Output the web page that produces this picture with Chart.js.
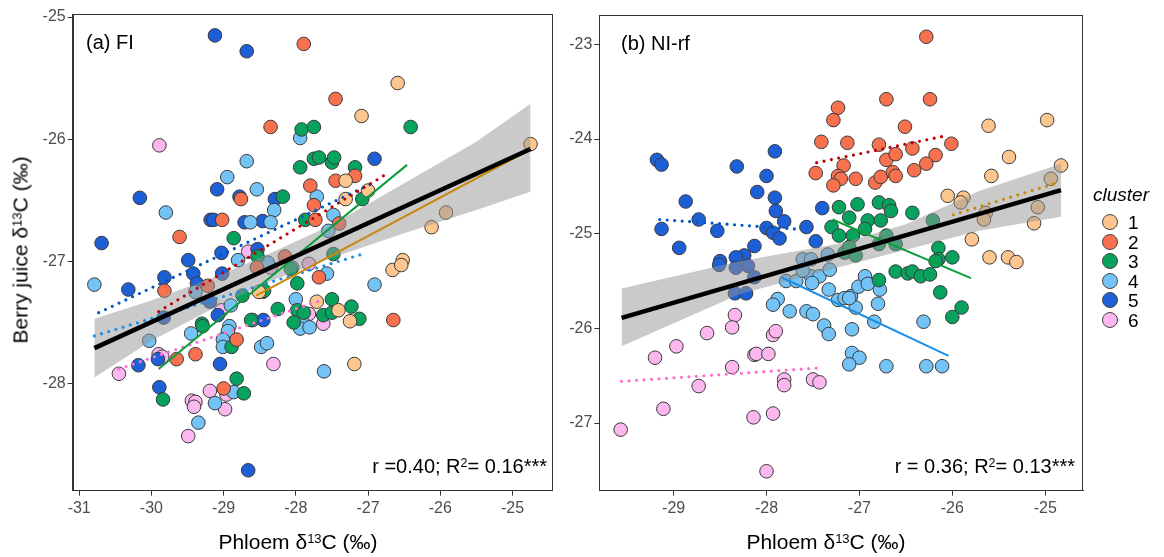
<!DOCTYPE html>
<html>
<head>
<meta charset="utf-8">
<script src="https://cdn.jsdelivr.net/npm/chart.js@4.4.1/dist/chart.umd.min.js"></script>
<style>
  body { margin: 0; background: #fff; font-family: 'Liberation Sans', Arial, sans-serif; }
  #fig { position: relative; width: 1164px; height: 557px; overflow: hidden; }
  canvas { position: absolute; top: 0; }
  .txt { position: absolute; white-space: nowrap; color: #000; line-height: 1; }
  .sup { font-size: 0.62em; position: relative; top: -0.5em; }
  .axt { font-size: 21px; color: #000; }
  .lg-dot { position: absolute; width: 14px; height: 14px; border-radius: 50%; border: 1px solid #444; }
  .lg-num { position: absolute; font-size: 19px; line-height: 1; }
</style>
</head>
<body>
<div id="fig">
  <canvas id="chartA" width="560" height="557" style="left:0"></canvas>
  <canvas id="chartB" width="604" height="557" style="left:560px"></canvas>

  <div class="txt axt" style="left:20px;top:250px;transform:translate(-50%,-50%) rotate(-90deg);">Berry juice δ<span class="sup">13</span>C (‰)</div>
  <div class="txt axt" style="left:298px;top:541px;transform:translate(-50%,-50%);">Phloem δ<span class="sup">13</span>C (‰)</div>
  <div class="txt axt" style="left:826px;top:541px;transform:translate(-50%,-50%);">Phloem δ<span class="sup">13</span>C (‰)</div>

  <div class="txt" style="left:86px;top:32px;font-size:20px;">(a) FI</div>
  <div class="txt" style="left:621px;top:33px;font-size:20px;">(b) NI-rf</div>
  <div class="txt" style="right:617px;top:456px;font-size:20px;">r =0.40; R<span class="sup">2</span>= 0.16***</div>
  <div class="txt" style="right:89px;top:456px;font-size:20px;">r = 0.36; R<span class="sup">2</span>= 0.13***</div>

  <div id="legend"></div>
</div>

<script>
// ---- data: panel (a) FI, one array per cluster, [phloem, berry juice]
const aC1 = [[-26.59,-25.54],[-27.09,-25.81],[-24.75,-26.04],[-27.31,-26.34],[-27.31,-26.49],[-27.00,-26.42],[-25.92,-26.60],[-26.12,-26.72],[-26.52,-26.99],[-26.66,-27.07],[-26.54,-27.03],[-28.51,-27.25],[-27.71,-27.33],[-27.41,-27.40],[-27.25,-27.49],[-27.19,-27.84]];
const aC2 = [[-27.89,-25.22],[-28.35,-25.90],[-27.45,-25.67],[-27.80,-26.38],[-28.76,-26.49],[-29.02,-26.66],[-29.61,-26.80],[-27.18,-26.30],[-27.45,-26.34],[-27.75,-26.54],[-27.40,-26.69],[-27.73,-26.66],[-28.54,-27.05],[-28.15,-26.96],[-27.68,-27.13],[-29.22,-27.20],[-29.82,-27.24],[-26.65,-27.48],[-29.65,-27.80],[-29.39,-27.76],[-28.82,-27.64],[-29.00,-28.04]];
const aC3 = [[-27.92,-25.92],[-27.75,-25.90],[-27.75,-26.16],[-27.94,-26.23],[-28.18,-26.47],[-28.86,-26.81],[-27.87,-26.66],[-26.41,-25.90],[-27.68,-26.15],[-27.50,-26.19],[-27.47,-26.15],[-27.18,-26.23],[-27.08,-26.49],[-27.48,-26.94],[-28.53,-26.96],[-27.98,-27.18],[-28.44,-27.24],[-27.50,-27.31],[-27.23,-27.37],[-27.12,-27.47],[-27.98,-27.40],[-28.03,-27.50],[-29.30,-27.51],[-28.25,-27.39],[-28.74,-27.28],[-28.62,-27.48],[-29.29,-27.53],[-28.89,-27.70],[-27.89,-27.42],[-29.84,-28.13],[-28.82,-27.96],[-28.72,-28.08],[-27.62,-27.44],[-27.50,-27.42],[-28.07,-27.06]];
const aC4 = [[-27.94,-25.99],[-28.68,-26.18],[-28.95,-26.31],[-28.54,-26.41],[-29.80,-26.60],[-28.30,-26.58],[-28.63,-26.68],[-28.35,-26.68],[-27.71,-26.47],[-27.48,-26.62],[-27.55,-26.75],[-28.80,-26.99],[-28.39,-27.01],[-28.05,-27.05],[-27.57,-27.10],[-26.91,-27.19],[-28.00,-27.31],[-27.89,-27.51],[-28.90,-27.36],[-28.92,-27.53],[-30.79,-27.19],[-29.39,-27.25],[-30.03,-27.65],[-29.45,-27.59],[-28.94,-27.57],[-29.01,-27.64],[-29.01,-27.70],[-28.48,-27.70],[-28.40,-27.67],[-27.94,-27.55],[-27.81,-27.54],[-28.86,-28.07],[-29.12,-28.16],[-29.35,-28.32],[-27.61,-27.90]];
const aC5 = [[-29.12,-25.15],[-28.68,-25.28],[-29.09,-26.41],[-30.16,-26.48],[-28.78,-26.47],[-28.29,-26.49],[-29.18,-26.66],[-29.14,-26.66],[-28.71,-26.68],[-28.46,-26.67],[-30.69,-26.85],[-28.53,-26.90],[-29.49,-26.99],[-29.03,-26.93],[-26.91,-26.16],[-29.42,-27.10],[-29.02,-27.10],[-29.19,-27.33],[-30.32,-27.23],[-29.82,-27.13],[-29.37,-27.18],[-29.83,-27.46],[-29.08,-27.44],[-28.45,-27.48],[-29.91,-27.80],[-30.18,-27.85],[-29.05,-27.84],[-29.89,-28.03],[-28.66,-28.71]];
const aC6 = [[-29.89,-26.05],[-28.66,-26.92],[-28.35,-27.05],[-27.82,-27.02],[-29.03,-27.40],[-28.60,-27.48],[-27.62,-27.51],[-28.46,-27.25],[-27.82,-27.43],[-28.31,-27.84],[-29.90,-27.76],[-29.85,-27.78],[-30.45,-27.92],[-29.19,-28.06],[-28.96,-28.09],[-29.44,-28.14],[-29.39,-28.15],[-29.41,-28.19],[-28.98,-28.21],[-29.49,-28.43]];

// fitted lines (end points) and the grey confidence band, panel (a)
const aFits = [
  [[-28.55,-27.28],[-24.80,-26.10]],
  [[-29.90,-27.41],[-26.76,-26.29]],
  [[-29.90,-27.88],[-26.46,-26.21]],
  [[-30.79,-27.61],[-27.02,-26.93]],
  [[-30.73,-27.42],[-26.97,-26.37]],
  [[-30.45,-27.88],[-27.66,-27.32]]
];
const aFitDotted = [false, true, false, true, true, true];
const aFitAll = [[-30.79,-27.71],[-24.75,-26.08]];
const aBandX  = [-30.79, -30.0, -29.0, -28.3, -27.5, -26.5, -25.5, -24.75];
const aBandLo = [-27.95, -27.65, -27.34, -27.15, -26.97, -26.77, -26.58, -26.43];
const aBandHi = [-27.47, -27.32, -27.10, -26.92, -26.70, -26.36, -26.02, -25.71];

// ---- data: panel (b) NI-rf
const bC1 = [[-26.05,-24.60],[-25.88,-24.62],[-25.91,-24.67],[-25.61,-23.86],[-25.39,-24.19],[-25.58,-24.39],[-25.64,-24.78],[-25.66,-24.85],[-25.79,-25.06],[-25.60,-25.25],[-25.40,-25.25],[-25.31,-25.30],[-24.98,-23.80],[-24.83,-24.28],[-24.94,-24.42],[-25.08,-24.72],[-25.12,-24.89]];
const bC2 = [[-26.28,-22.92],[-26.71,-23.58],[-26.24,-23.58],[-27.23,-23.67],[-27.28,-23.80],[-26.51,-23.87],[-27.41,-24.03],[-27.13,-24.04],[-26.79,-24.06],[-26.01,-24.05],[-26.71,-24.22],[-26.61,-24.16],[-26.43,-24.10],[-26.18,-24.17],[-26.28,-24.26],[-27.17,-24.28],[-27.47,-24.36],[-27.23,-24.39],[-27.20,-24.42],[-27.28,-24.49],[-27.04,-24.42],[-26.83,-24.46],[-26.77,-24.40],[-26.64,-24.35],[-26.61,-24.39],[-26.41,-24.33]];
const bC3 = [[-27.22,-24.72],[-27.02,-24.69],[-26.79,-24.67],[-26.68,-24.70],[-26.66,-24.76],[-26.43,-24.78],[-27.30,-24.93],[-27.22,-25.02],[-27.11,-24.83],[-26.91,-24.86],[-26.77,-24.86],[-26.94,-24.95],[-27.07,-25.02],[-27.16,-25.20],[-27.04,-25.23],[-27.11,-25.14],[-26.71,-25.02],[-26.61,-25.11],[-26.79,-25.11],[-26.21,-24.86],[-26.15,-25.15],[-26.15,-25.27],[-26.00,-25.25],[-26.79,-25.49],[-26.61,-25.40],[-26.48,-25.42],[-26.43,-25.40],[-26.34,-25.45],[-26.24,-25.43],[-26.18,-25.29],[-26.13,-25.62],[-25.90,-25.78],[-26.00,-25.88]];
const bC4 = [[-27.79,-25.50],[-27.88,-25.69],[-27.93,-25.75],[-27.75,-25.82],[-27.57,-25.82],[-27.50,-25.85],[-27.38,-25.97],[-27.33,-26.06],[-27.68,-25.50],[-27.52,-25.45],[-27.43,-25.45],[-27.51,-25.52],[-27.32,-25.38],[-27.33,-25.59],[-27.23,-25.70],[-27.16,-25.68],[-27.09,-25.66],[-27.01,-25.56],[-26.94,-25.45],[-27.04,-25.78],[-27.08,-26.01],[-26.78,-25.59],[-26.80,-25.74],[-26.84,-25.93],[-26.31,-25.93],[-27.08,-26.26],[-27.00,-26.31],[-27.11,-26.38],[-26.71,-26.40],[-26.28,-26.40],[-26.11,-26.40],[-27.61,-25.27],[-27.52,-25.27],[-27.34,-25.22],[-27.61,-25.39],[-26.91,-25.53],[-27.11,-25.68]];
const bC5 = [[-29.18,-24.22],[-29.13,-24.27],[-28.87,-24.66],[-29.13,-24.95],[-28.73,-24.85],[-28.53,-24.97],[-28.94,-25.15],[-28.32,-24.29],[-27.91,-24.13],[-28.00,-24.39],[-28.10,-24.56],[-27.91,-24.62],[-27.90,-24.76],[-27.81,-24.87],[-28.00,-24.94],[-27.93,-24.99],[-27.86,-25.05],[-28.13,-25.13],[-28.24,-25.23],[-28.20,-25.34],[-28.33,-25.25],[-28.50,-25.29],[-28.51,-25.33],[-28.33,-25.36],[-28.13,-25.46],[-28.34,-25.63],[-28.22,-25.63],[-27.57,-24.93],[-27.47,-25.08],[-27.40,-24.73]];
const bC6 = [[-28.34,-25.86],[-28.37,-25.99],[-28.64,-26.05],[-28.97,-26.19],[-29.20,-26.31],[-28.37,-26.41],[-28.73,-26.61],[-29.11,-26.85],[-29.57,-27.07],[-28.14,-26.94],[-27.93,-26.90],[-28.00,-27.51],[-28.13,-26.28],[-28.11,-26.27],[-27.98,-26.27],[-27.93,-26.07],[-27.90,-26.03],[-27.81,-26.54],[-27.81,-26.60],[-27.50,-26.54],[-27.43,-26.57]];

const bFits = [
  [[-25.99,-24.80],[-24.86,-24.46]],
  [[-27.46,-24.25],[-26.09,-23.97]],
  [[-27.29,-24.85],[-25.80,-25.47]],
  [[-27.84,-25.46],[-26.04,-26.29]],
  [[-29.15,-24.85],[-27.70,-24.95]],
  [[-29.56,-26.56],[-27.46,-26.42]]
];
const bFitDotted = [true, true, false, false, true, true];
const bFitAll = [[-29.56,-25.89],[-24.83,-24.54]];
const bBandX  = [-29.56, -28.29, -27.2, -26.5, -25.71, -24.83];
const bBandLo = [-26.19, -25.64, -25.35, -25.17, -24.97, -24.82];
const bBandHi = [-25.58, -25.29, -25.10, -24.90, -24.55, -24.26];

// ticks
const aXTicks = [-31, -30, -29, -28, -27, -26, -25];
const aYTicks = [-25, -26, -27, -28];
const bXTicks = [-29, -28, -27, -26, -25];
const bYTicks = [-23, -24, -25, -26, -27];

const clusters = ['1', '2', '3', '4', '5', '6'];
const pointColors = ['#FCC68E', '#F8714F', '#07A35E', '#74C3F6', '#1D5FD6', '#FBB7EE'];
const lineColors  = ['#C8890A', '#C00000', '#0A9E3C', '#1A8FE8', '#0057C2', '#FF6FCF'];

Chart.defaults.font.family = "'Liberation Sans', Arial, sans-serif";

const toXY = arr => arr.map(p => ({ x: p[0], y: p[1] }));

const framePlugin = {
  id: 'frame',
  afterDraw(chart) {
    const { ctx, chartArea: a } = chart;
    ctx.save();
    ctx.strokeStyle = '#333';
    ctx.lineWidth = 1;
    ctx.strokeRect(Math.round(a.left) + 0.5, Math.round(a.top) + 0.5,
                   Math.round(a.right - a.left) - 1, Math.round(a.bottom - a.top) - 1);
    ctx.restore();
  }
};

function buildDatasets(groups, fits, dotted, fitAll, bandX, bandLo, bandHi) {
  const ds = [];
  groups.forEach((g, i) => {
    ds.push({
      label: 'cluster ' + clusters[i],
      data: toXY(g),
      backgroundColor: pointColors[i],
      borderColor: '#3a3a3a',
      borderWidth: 1,
      pointRadius: 6.8,
      showLine: false,
      order: 5
    });
  });
  // confidence band (upper fills down to lower)
  ds.push({
    data: bandX.map((x, i) => ({ x, y: bandHi[i] })),
    showLine: true, borderWidth: 0, borderColor: 'rgba(0,0,0,0)', pointRadius: 0,
    backgroundColor: 'rgba(150,150,150,0.5)', fill: '+1', order: 3
  });
  ds.push({
    data: bandX.map((x, i) => ({ x, y: bandLo[i] })),
    showLine: true, borderWidth: 0, borderColor: 'rgba(0,0,0,0)', pointRadius: 0,
    fill: false, order: 3
  });
  fits.forEach((f, i) => {
    ds.push({
      data: toXY(f),
      showLine: true, pointRadius: 0, fill: false,
      borderColor: lineColors[i],
      borderWidth: dotted[i] ? 3.2 : 2,
      borderDash: dotted[i] ? [0, 7.5] : [],
      borderCapStyle: dotted[i] ? 'round' : 'butt',
      order: 1
    });
  });
  ds.push({
    data: toXY(fitAll),
    showLine: true, pointRadius: 0, fill: false,
    borderColor: '#000', borderWidth: 4.5, order: 0
  });
  return ds;
}

function axis(min, max, ticks, fitSize, isX) {
  return {
    type: 'linear', min, max,
    afterBuildTicks: s => { s.ticks = ticks.map(v => ({ value: v })); },
    afterFit: s => { if (isX) s.height = fitSize; else s.width = fitSize; },
    ticks: { color: '#4d4d4d', font: { size: 16 }, padding: isX ? 3 : 2, maxRotation: 0, callback: v => String(v) },
    grid: { display: true, drawOnChartArea: false, drawTicks: true, tickLength: 5, color: '#333' },
    border: { display: true, color: '#333' }
  };
}

function makePanel(id, datasets, xr, yr, xt, yt, yWidth, padding) {
  return new Chart(document.getElementById(id), {
    type: 'scatter',
    data: { datasets },
    options: {
      responsive: false,
      animation: false,
      layout: { padding },
      plugins: { legend: { display: false }, tooltip: { enabled: false } },
      scales: {
        x: axis(xr[0], xr[1], xt, 66.3, true),
        y: axis(yr[0], yr[1], yt, yWidth, false)
      }
    },
    plugins: [framePlugin]
  });
}

makePanel('chartA',
  buildDatasets([aC1, aC2, aC3, aC4, aC5, aC6], aFits, aFitDotted, aFitAll, aBandX, aBandLo, aBandHi),
  [-31.09, -24.45], [-28.877, -24.975], aXTicks, aYTicks, 72.7,
  { top: 14, right: 2, bottom: 0, left: 0 });

makePanel('chartB',
  buildDatasets([bC1, bC2, bC3, bC4, bC5, bC6], bFits, bFitDotted, bFitAll, bBandX, bBandLo, bBandHi),
  [-29.80, -24.59], [-27.715, -22.69], bXTicks, bYTicks, 39.3,
  { top: 15, right: 80.7, bottom: 0, left: 0 });

// legend
const lg = document.getElementById('legend');
lg.innerHTML = '<div class="txt" style="left:1093px;top:185px;font-size:19px;font-style:italic;">cluster</div>';
clusters.forEach((c, i) => {
  const cy = 222 + i * 19.5;
  lg.innerHTML += `<div class="lg-dot" style="left:${1110 - 8}px;top:${cy - 8}px;background:${pointColors[i]}"></div>` +
                  `<div class="lg-num" style="left:1128px;top:${cy - 9}px;">${c}</div>`;
});
</script>
</body>
</html>
